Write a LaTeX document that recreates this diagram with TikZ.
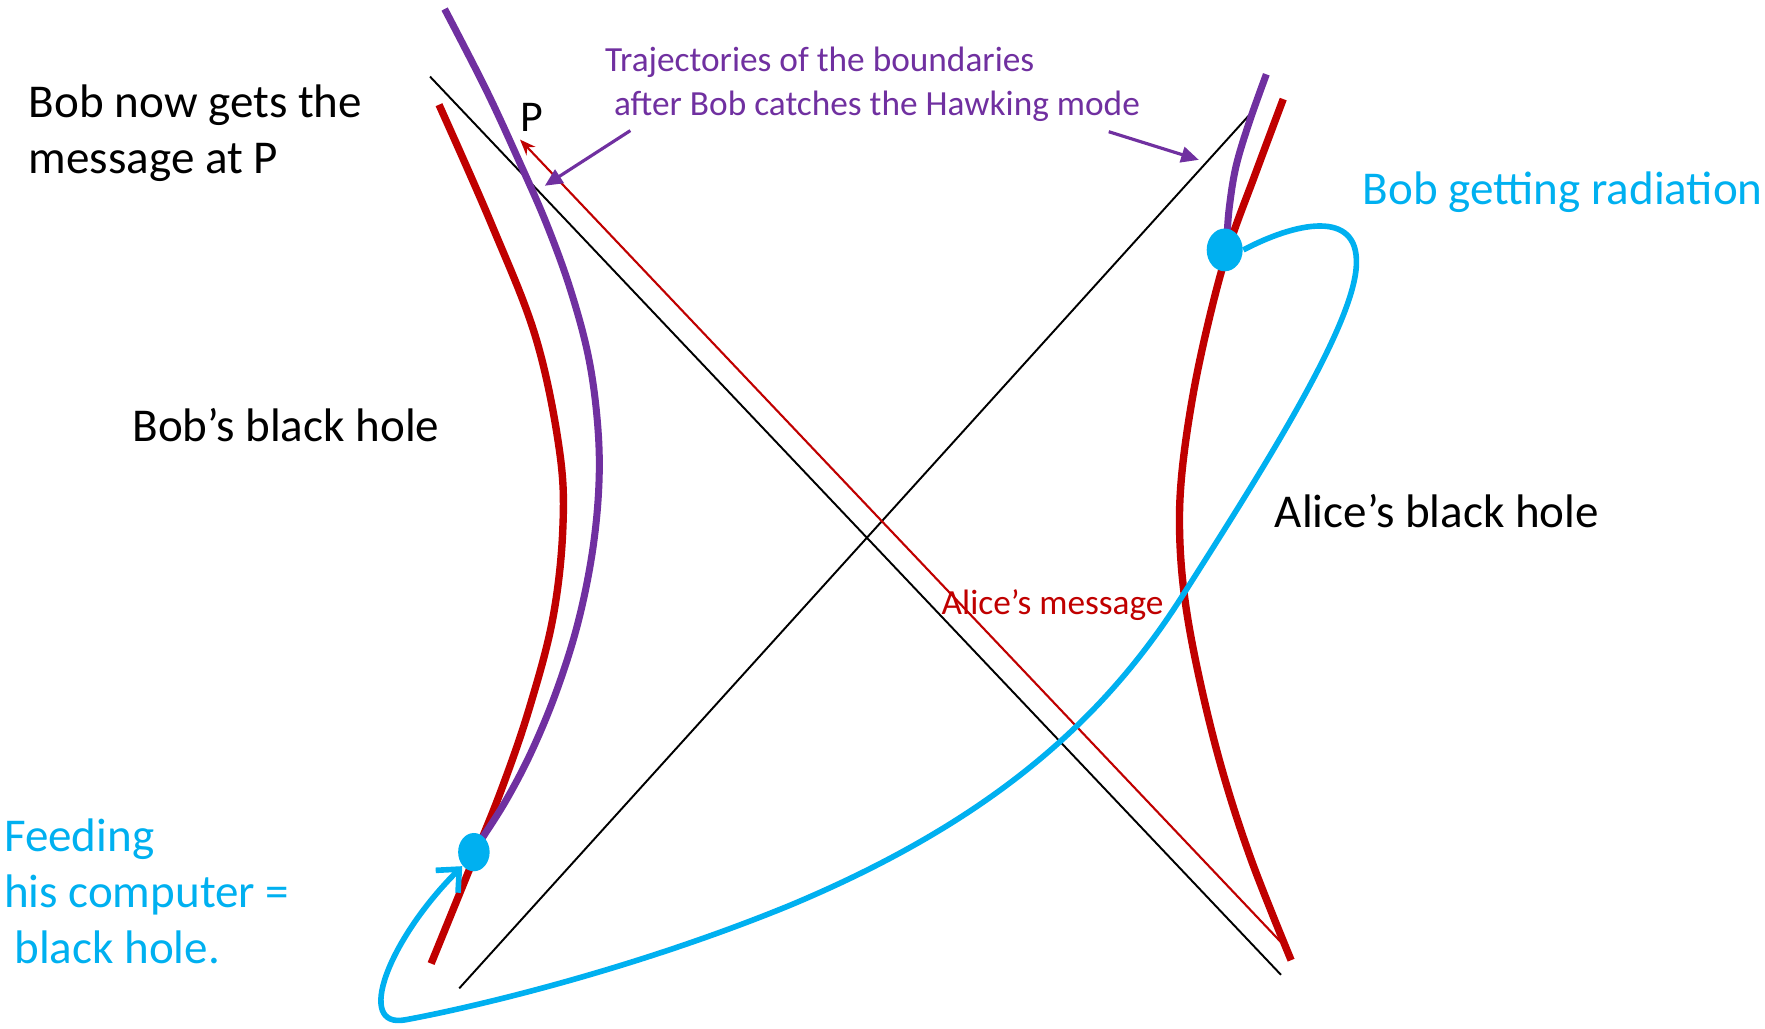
\documentclass[tikz,border=0pt]{standalone}
\usepackage{fontspec}
\setmainfont{Carlito}
\usetikzlibrary{arrows.meta,shapes.geometric}
\definecolor{bhred}{HTML}{C00000}
\definecolor{bhpurple}{HTML}{7030A0}
\definecolor{bhblue}{HTML}{00B0F0}
\begin{document}
\begin{tikzpicture}[x=0.0112564cm,y=-0.0112564cm,
  bigtext/.style={font=\fontsize{13.4}{15.9}\selectfont, inner sep=0pt, align=left},
  smalltext/.style={font=\fontsize{10.05}{12.5}\selectfont, inner sep=0pt, align=left},
  horizon/.style={black, line width=0.55pt},
  worldline/.style={bhred, line width=2.1pt, line cap=butt},
  boundary/.style={bhpurple, line width=2pt},
  message/.style={bhred, line width=0.6pt, -{Stealth[length=4.5pt,width=3.5pt]}},
  pointer/.style={bhpurple, line width=0.9pt, -{Triangle[length=5pt,width=4.5pt]}},
  bluedot/.style={ellipse, fill=bhblue, inner sep=0pt},
  radiation/.style={bhblue, line width=1.6pt, -{Straight Barb[length=5pt,width=9pt]}}
]
\useasboundingbox (0,0) rectangle (1568,914);

% horizons
\coordinate (hA1) at (382,68);
\coordinate (hA2) at (1138,866);
\coordinate (hB1) at (408,878);
\coordinate (hB2) at (1110,102);
\draw[horizon] (hA1) -- (hA2);
\draw[horizon] (hB1) -- (hB2);

% Alice's message
\coordinate (msgS) at (1138,837);
\coordinate (msgE) at (462,124);
\draw[message] (msgS) -- (msgE);

% Bob's black hole boundary (red)
\draw[worldline] plot[smooth, tension=0.6] coordinates {(390,93) (437,200) (476,300) (497,400) (500,470) (491,550) (470,630) (446,700) (420,765) (383,856)};
% Alice's black hole boundary (red)
\draw[worldline] plot[smooth, tension=0.6] coordinates {(1140,88) (1115,155) (1092,218) (1075,280) (1060,350) (1050,420) (1048,475) (1053,535) (1066,605) (1086,685) (1112,765) (1147,853)};

% purple trajectories
\draw[boundary] plot[smooth, tension=0.6] coordinates {(395,8) (432,80) (462,145) (486,200) (507,258) (523,318) (531,378) (532,432) (526,492) (513,555) (494,615) (472,668) (449,712) (426,748)};
\draw[boundary] plot[smooth, tension=0.6] coordinates {(1125,66) (1110,108) (1098,148) (1092,185) (1090,212)};

% dots
\node[bluedot, minimum width=0.315cm, minimum height=0.383cm] (dotL) at (421,757) {};
\node[bluedot, minimum width=0.36cm, minimum height=0.428cm] (dotR) at (1088,222) {};

% radiation path
\draw[radiation] (dotR.east) .. controls (1150,198) and (1207,185) .. (1205,235)
  .. controls (1203,290) and (1120,420) .. (1050,530)
  .. controls (980,640) and (880,730) .. (700,805)
  .. controls (560,862) and (420,895) .. (360,906)
  .. controls (315,914) and (345,835) .. (dotL.south west);

% pointers
\coordinate (pL1) at (560,116);
\coordinate (pL2) at (484,165);
\coordinate (pR1) at (985,117);
\coordinate (pR2) at (1065,142);
\draw[pointer] (pL1) -- (pL2);
\draw[pointer] (pR1) -- (pR2);

% texts
\node[bigtext, anchor=north west] (bobnow) at (25,75) {Bob now gets the\\message at P};
\node[font=\fontsize{12.5}{15}\selectfont, inner sep=0pt, anchor=base west] (P) at (462,117) {P};
\node[bigtext, anchor=base west] (bobbh) at (117,392) {Bob’s black hole};
\node[bigtext, anchor=base west] (alicebh) at (1132,469) {Alice’s black hole};
\node[bigtext, anchor=base west, text=bhblue] (bobrad) at (1210,182) {Bob getting radiation};
\node[bigtext, anchor=north west, text=bhblue] (feeding) at (3,727) {Feeding\\his computer =\\\hspace*{0.22em}black hole.};
\node[smalltext, anchor=north west, text=bhpurple] (traj) at (537,41) {Trajectories of the boundaries\\\hspace*{0.25em}after Bob catches the Hawking mode};
\node[smalltext, anchor=base west, text=bhred] (amsg) at (836,546) {Alice’s message};
\end{tikzpicture}
\end{document}
